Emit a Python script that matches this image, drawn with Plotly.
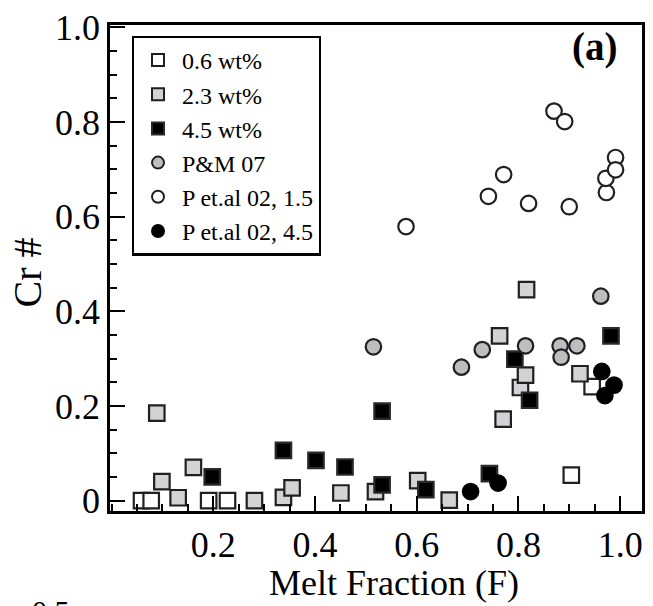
import plotly.graph_objects as go

# ---- data ----
open_sq_x = [0.059, 0.078, 0.191, 0.228, 0.904, 0.945]
open_sq_y = [0.0, 0.0, 0.0, 0.0, 0.054, 0.241]

gray_sq_x = [0.089, 0.099, 0.131, 0.161, 0.281, 0.338, 0.355, 0.451, 0.519, 0.602,
             0.664, 0.770, 0.804, 0.814, 0.763, 0.816, 0.921]
gray_sq_y = [0.185, 0.040, 0.006, 0.070, 0.0, 0.007, 0.027, 0.016, 0.019, 0.042,
             0.001, 0.172, 0.239, 0.265, 0.348, 0.446, 0.268]

black_sq_x = [0.198, 0.338, 0.402, 0.459, 0.532, 0.532, 0.618, 0.743, 0.793, 0.822, 0.982]
black_sq_y = [0.050, 0.106, 0.085, 0.071, 0.189, 0.033, 0.023, 0.057, 0.299, 0.212, 0.348]

pm07_x = [0.515, 0.688, 0.729, 0.814, 0.882, 0.884, 0.915, 0.962]
pm07_y = [0.325, 0.282, 0.319, 0.327, 0.327, 0.303, 0.327, 0.432]

p02_15_x = [0.579, 0.741, 0.771, 0.820, 0.900, 0.870, 0.891, 0.973, 0.972, 0.991, 0.991]
p02_15_y = [0.579, 0.643, 0.689, 0.628, 0.621, 0.823, 0.801, 0.651, 0.681, 0.725, 0.699]

p02_45_x = [0.706, 0.760, 0.964, 0.988, 0.970]
p02_45_y = [0.019, 0.037, 0.273, 0.244, 0.222]

series_names = ["0.6 wt%", "2.3 wt%", "4.5 wt%", "P&M 07", "P et.al 02, 1.5", "P et.al 02, 4.5"]

x_tickvals = [0.2, 0.4, 0.6, 0.8, 1.0]
x_ticktext = ["0.2", "0.4", "0.6", "0.8", "1.0"]
y_tickvals = [0, 0.2, 0.4, 0.6, 0.8, 1.0]
y_ticktext = ["0", "0.2", "0.4", "0.6", "0.8", "1.0"]

FONT = "Liberation Serif"
EDGE = "#231f20"

fig = go.Figure()

def add(xs, ys, name, symbol, fill, size, edge=EDGE, lw=2.2):
    fig.add_trace(go.Scatter(
        x=xs, y=ys, mode="markers", name=name,
        marker=dict(symbol=symbol, size=size, color=fill,
                    line=dict(color=edge, width=lw)),
    ))

add(open_sq_x, open_sq_y, series_names[0], "square", "white", 15.5)
add(gray_sq_x, gray_sq_y, series_names[1], "square", "#d1d3d4", 15.5)
add(black_sq_x, black_sq_y, series_names[2], "square", "#000000", 15.5, edge="#2a2a2a")
add(pm07_x, pm07_y, series_names[3], "circle", "#bcbec0", 15.5)
add(p02_15_x, p02_15_y, series_names[4], "circle", "white", 15.5)
add(p02_45_x, p02_45_y, series_names[5], "circle", "#000000", 15.5, edge="#000000")

axis_common = dict(
    showline=True, linecolor="black", linewidth=2.5, mirror=True,
    ticks="inside", ticklen=15, tickwidth=2.2, tickcolor="black",
    showgrid=False, zeroline=False,
    tickfont=dict(family=FONT, size=36, color="black"),
)

fig.update_xaxes(
    range=[-0.003, 1.043], tickmode="array", tickvals=x_tickvals, ticktext=x_ticktext,
    minor=dict(ticks="inside", dtick=0.05, tick0=0, ticklen=7, tickwidth=2, tickcolor="black", showgrid=False),
    **axis_common,
)
fig.update_yaxes(
    range=[-0.022, 1.005], tickmode="array", tickvals=y_tickvals, ticktext=y_ticktext,
    minor=dict(ticks="inside", dtick=0.05, tick0=0, ticklen=7, tickwidth=2, tickcolor="black", showgrid=False),
    **axis_common,
)

# axis titles as annotations for exact placement
fig.add_annotation(
    text="Melt Fraction (F)", x=0.533, y=-0.148, xref="paper", yref="paper",
    xanchor="center", yanchor="middle", showarrow=False,
    font=dict(family=FONT, size=36, color="black"),
)
fig.add_annotation(
    text="Cr #", x=-0.155, y=0.49, xref="paper", yref="paper", textangle=-90,
    xanchor="center", yanchor="middle", showarrow=False,
    font=dict(family=FONT, size=40, color="black"),
)
fig.add_annotation(
    text="<b>(a)</b>", x=0.91, y=0.955, xref="paper", yref="paper",
    xanchor="center", yanchor="middle", showarrow=False,
    font=dict(family=FONT, size=39, color="black"),
)
# fragment of the next panel's tick label, cut off at the bottom edge
fig.add_annotation(
    text="0.5", x=-0.11, y=-0.205, xref="paper", yref="paper",
    xanchor="center", yanchor="middle", showarrow=False,
    font=dict(family=FONT, size=30, color="black"),
)

fig.update_layout(
    width=653, height=606,
    margin=dict(l=110, r=8, t=17, b=95),
    paper_bgcolor="white", plot_bgcolor="white",
    showlegend=True,
    legend=dict(
        x=0.041, y=0.978, xanchor="left", yanchor="top",
        bordercolor="black", borderwidth=2.2, bgcolor="white",
        font=dict(family=FONT, size=24, color="black"),
        itemsizing="constant", tracegroupgap=0, itemwidth=38,
    ),
    font=dict(family=FONT, color="black"),
)

fig.write_html("out.html")
